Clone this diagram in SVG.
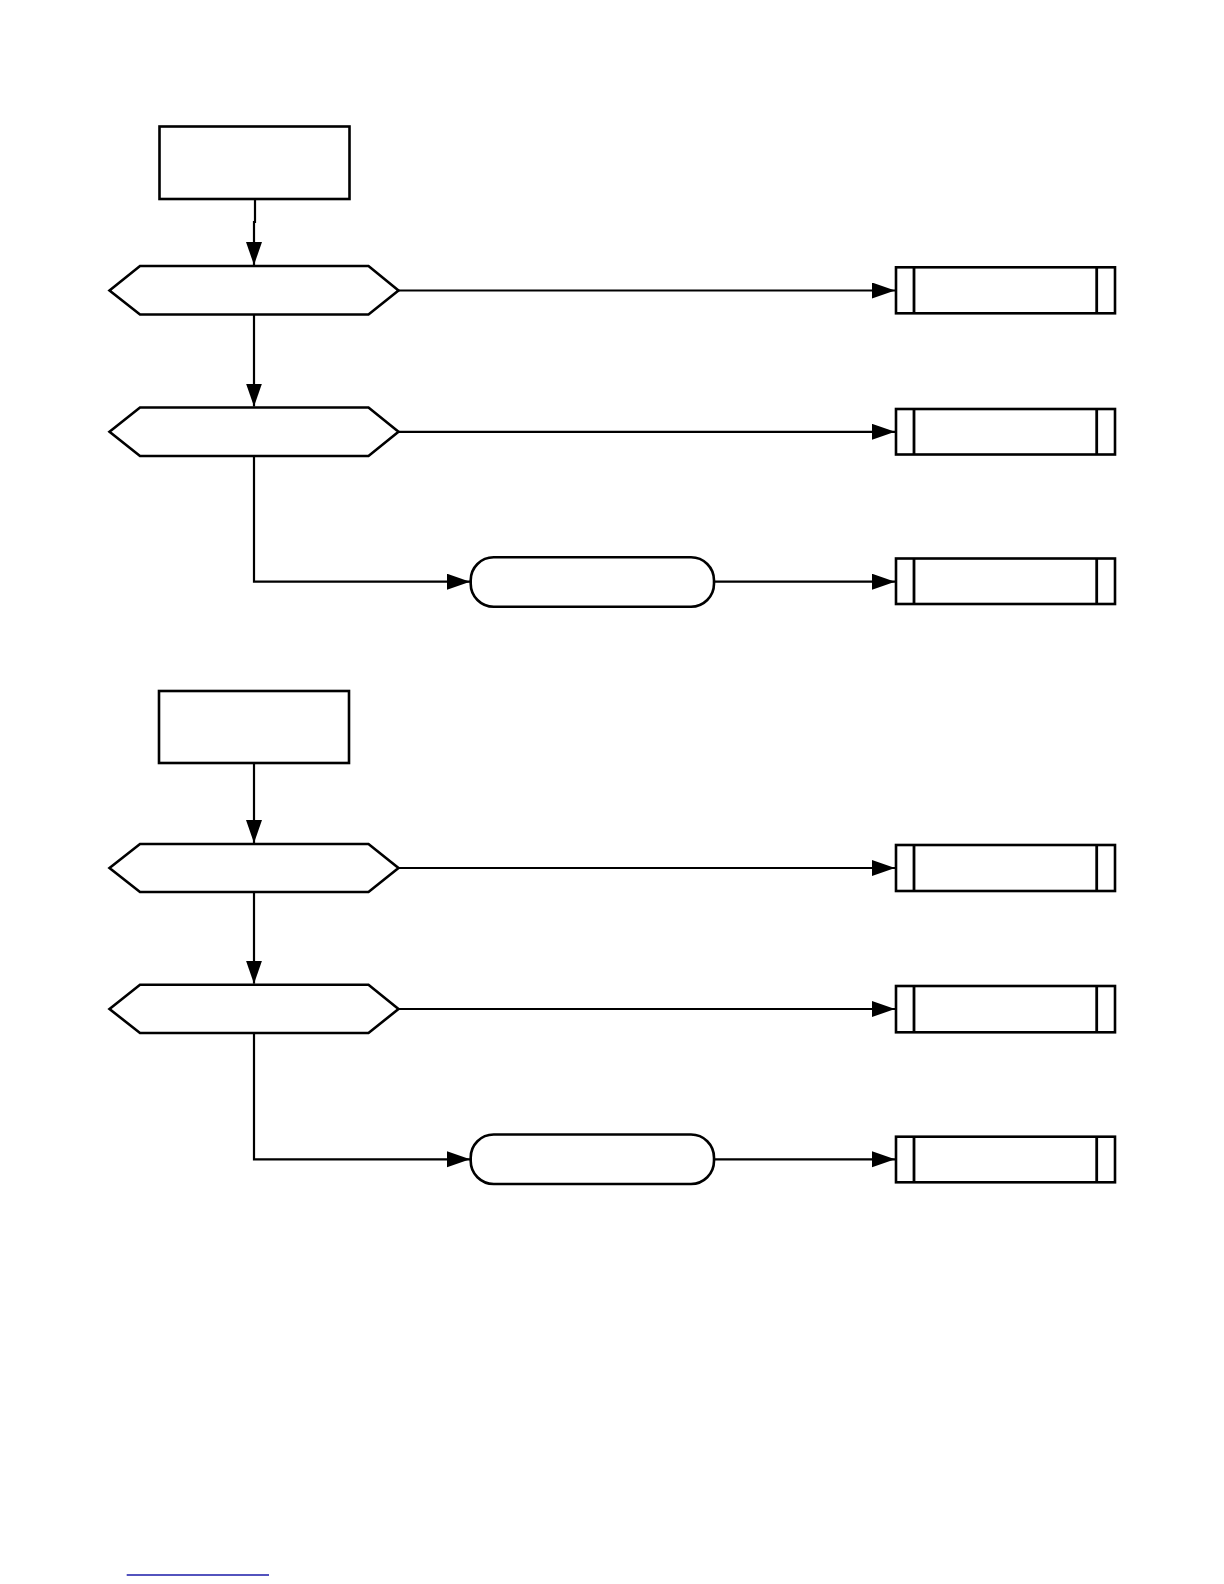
<svg xmlns="http://www.w3.org/2000/svg" width="1224" height="1584" viewBox="0 0 1224 1584">
<style>
.n{fill:#fff;stroke:#000;stroke-width:2.6;stroke-linejoin:miter}
.c{fill:none;stroke:#000;stroke-width:2.2}
</style>
<defs>
<marker id="ah" markerUnits="userSpaceOnUse" markerWidth="24" markerHeight="18" refX="23" refY="8" orient="auto">
<path d="M0,0 L23,8 L0,16 Z" fill="#000"/>
</marker>
</defs>
<rect width="1224" height="1584" fill="#fff"/>
<g id="connectors">
<path class="c" d="M255,199 V222 H254 V265" marker-end="url(#ah)"/>
<path class="c" d="M398.5,290.5 H895" marker-end="url(#ah)"/>
<path class="c" d="M254,314.5 V406.5" marker-end="url(#ah)"/>
<path class="c" d="M398.5,431.8 H895" marker-end="url(#ah)"/>
<path class="c" d="M254,456 V581.7 H470" marker-end="url(#ah)"/>
<path class="c" d="M714,581.7 H895" marker-end="url(#ah)"/>
<path class="c" d="M254,763 V843" marker-end="url(#ah)"/>
<path class="c" d="M398.5,868 H895" marker-end="url(#ah)"/>
<path class="c" d="M254,892 V983.7" marker-end="url(#ah)"/>
<path class="c" d="M398.5,1009 H895" marker-end="url(#ah)"/>
<path class="c" d="M254,1033 V1159.3 H470" marker-end="url(#ah)"/>
<path class="c" d="M714,1159.3 H895" marker-end="url(#ah)"/>
</g>
<g id="start1"><rect class="n" x="159.5" y="126.5" width="190" height="72.5"/></g>
<g id="decision1"><polygon class="n" points="109.5,290.5 140,266 368.5,266 398.5,290.5 368.5,314.5 140,314.5"/></g>
<g id="decision2"><polygon class="n" points="109.5,431.8 140,407.5 368.5,407.5 398.5,431.8 368.5,456 140,456"/></g>
<g id="terminal1"><rect class="n" x="470.7" y="557.3" width="243.3" height="49.4" rx="23" ry="23"/></g>
<g id="sub1"><rect class="n" x="896" y="267.3" width="219" height="46"/><line class="c" x1="914" y1="267.3" x2="914" y2="313.3" style="stroke-width:2.8"/><line class="c" x1="1096.7" y1="267.3" x2="1096.7" y2="313.3" style="stroke-width:2.8"/></g>
<g id="sub2"><rect class="n" x="896" y="409" width="219" height="45.5"/><line class="c" x1="914" y1="409" x2="914" y2="454.5" style="stroke-width:2.8"/><line class="c" x1="1096.7" y1="409" x2="1096.7" y2="454.5" style="stroke-width:2.8"/></g>
<g id="sub3"><rect class="n" x="896" y="558.5" width="219" height="45.5"/><line class="c" x1="914" y1="558.5" x2="914" y2="604" style="stroke-width:2.8"/><line class="c" x1="1096.7" y1="558.5" x2="1096.7" y2="604" style="stroke-width:2.8"/></g>
<g id="start2"><rect class="n" x="159" y="691" width="190" height="72"/></g>
<g id="decision3"><polygon class="n" points="109.5,868 140,844 368.5,844 398.5,868 368.5,892 140,892"/></g>
<g id="decision4"><polygon class="n" points="109.5,1009 140,984.7 368.5,984.7 398.5,1009 368.5,1033 140,1033"/></g>
<g id="terminal2"><rect class="n" x="470.7" y="1134.5" width="243.3" height="49.5" rx="23" ry="23"/></g>
<g id="sub4"><rect class="n" x="896" y="845" width="219" height="46"/><line class="c" x1="914" y1="845" x2="914" y2="891" style="stroke-width:2.8"/><line class="c" x1="1096.7" y1="845" x2="1096.7" y2="891" style="stroke-width:2.8"/></g>
<g id="sub5"><rect class="n" x="896" y="986" width="219" height="46.3"/><line class="c" x1="914" y1="986" x2="914" y2="1032.3" style="stroke-width:2.8"/><line class="c" x1="1096.7" y1="986" x2="1096.7" y2="1032.3" style="stroke-width:2.8"/></g>
<g id="sub6"><rect class="n" x="896" y="1136.7" width="219" height="45.6"/><line class="c" x1="914" y1="1136.7" x2="914" y2="1182.3" style="stroke-width:2.8"/><line class="c" x1="1096.7" y1="1136.7" x2="1096.7" y2="1182.3" style="stroke-width:2.8"/></g>
<line x1="126.7" y1="1575" x2="269" y2="1575" stroke="#1a1aa8" stroke-width="1.4"/>
</svg>
